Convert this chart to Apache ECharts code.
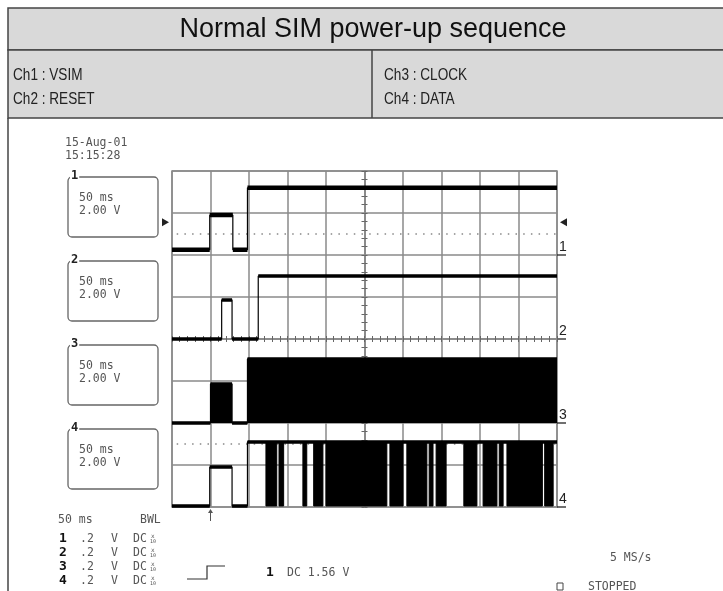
<!DOCTYPE html>
<html><head><meta charset="utf-8">
<script src="https://cdn.jsdelivr.net/npm/echarts@6/dist/echarts.min.js"></script>
<style>html,body{margin:0;padding:0;background:#fff}#c{width:723px;height:591px}</style>
</head><body><div id="c"></div>
<script>
// ---------- data ----------
const titleText = 'Normal SIM power-up sequence';
const channelNames = ['Ch1 : VSIM', 'Ch2 : RESET', 'Ch3 : CLOCK', 'Ch4 : DATA'];
const timeRange = [0, 500];      // ms, 50 ms/div
const timeInterval = 50;
const voltRange = [0, 16];       // stacked display, 2 V/div
const voltInterval = 2;
const channelOffsets = [12, 8, 4, 0]; // V offset of each channel ground
// step waveforms: [time ms, volts]
const ch1Wave = [[0, 0.25], [49, 1.9], [79, 0.25], [98, 3.2], [500, 3.2]];
const ch2Wave = [[0, 0], [64.5, 1.86], [78, 0], [112, 3.0], [500, 3.0]];
const ch3Wave = [[0, 0], [50, 1.86], [78, 0], [98, 3.05], [500, 3.05]];
const ch4Wave = [[0, 0.05], [49, 1.9], [78, 0.05], [98, 3.1], [500, 3.1]];
const ch4Bursts = [[122, 136], [139, 145], [170, 175], [184, 196], [200, 279], [283, 300], [305, 331],
  [334, 339], [343, 356], [379, 396], [404, 422], [425, 430], [435, 481], [484, 495]];
const ch4High = 3.1, ch4Low = 0.05, ch4BurstStart = 98;
const ch1RefLevel = 1.0, ch4RefLevel = 3.0;
const triggerLevel = 1.56, triggerTime = 50;
const dateLines = ['15-Aug-01', '15:15:28'];
const boxTimebase = '50 ms', boxScale = '2.00 V';
const bottomHeader = ['50 ms', 'BWL'];
const bottomRows = [['1', '.2', 'V', 'DC'], ['2', '.2', 'V', 'DC'], ['3', '.2', 'V', 'DC'], ['4', '.2', 'V', 'DC']];
const triggerInfo = ['1', 'DC 1.56 V'];
const rateText = '5 MS/s', stateText = 'STOPPED';

// ---------- chart ----------
const GL = 172, GT = 171, GW = 385, GH = 336;
const chart = echarts.init(document.getElementById('c'), null, {renderer: 'canvas'});
const off = (w, o) => w.map(p => [p[0], p[1] + o]);
// horizontal level segments only (thick), separated by null gaps
const levels = (w, o) => {
  const out = [];
  for (let i = 0; i < w.length - 1; i++) {
    out.push([w[i][0], w[i][1] + o], [w[i + 1][0], w[i][1] + o], null);
  }
  return out;
};
const burstData = [[ch4BurstStart, ch4High]];
ch4Bursts.forEach(b => { burstData.push([b[0], ch4Low]); burstData.push([b[1], ch4High]); });
burstData.push([timeRange[1], ch4High]);

const gridCol = '#8a8a8a';
const mono = '"DejaVu Sans Mono", monospace';
const tickAxisX = (inside) => ({
  type: 'value', min: -250, max: 250, interval: 50, position: 'bottom',
  axisLine: {show: true, onZero: true, onZeroAxisIndex: 1, lineStyle: {color: gridCol, width: 1.5}},
  axisTick: {show: true, inside, length: 3, lineStyle: {color: '#666'}},
  minorTick: {show: true, splitNumber: 5, length: 3, lineStyle: {color: '#666'}},
  axisLabel: {show: false}, splitLine: {show: false}
});
const tickAxisY = (inside) => ({
  type: 'value', min: -8, max: 8, interval: 2, position: 'left',
  axisLine: {show: true, onZero: true, onZeroAxisIndex: 1, lineStyle: {color: gridCol, width: 1.5}},
  axisTick: {show: true, inside, length: 3, lineStyle: {color: '#666'}},
  minorTick: {show: true, splitNumber: 5, length: 3, lineStyle: {color: '#666'}},
  axisLabel: {show: false}, splitLine: {show: false}
});

const thin = {color: '#000', width: 1.2};
const thick = {color: '#000', width: 3.5};
const dotted = {color: '#888', type: [1.5, 6.2], dashOffset: 3, width: 1.5};
const waves = [ch1Wave, ch2Wave, ch3Wave, ch4Wave];
const series = [];
waves.forEach((w, i) => {
  const s = {type: 'line', step: 'end', data: off(w, channelOffsets[i]), symbol: 'none', z: 5, lineStyle: thin};
  if (i === 2) s.areaStyle = {color: '#000', opacity: 1, origin: channelOffsets[2]};
  if (i === 0 || i === 3) s.markLine = {silent: true, symbol: 'none', label: {show: false}, lineStyle: dotted,
    data: [{yAxis: channelOffsets[i] + (i === 0 ? ch1RefLevel : ch4RefLevel)}]};
  series.push(s);
  series.push({type: 'line', data: levels(w, channelOffsets[i]), symbol: 'none', z: 6,
    lineStyle: i === 0 ? {color: '#000', width: 4.5} : thick, connectNulls: false});
});
series.push({type: 'line', step: 'end', data: off(burstData, channelOffsets[3]), symbol: 'none', z: 5,
  lineStyle: {color: '#000', width: 1},
  areaStyle: {color: '#000', opacity: 1, origin: channelOffsets[3] + ch4High}});

const option = {
  animation: false,
  backgroundColor: '#fff',
  grid: {left: GL, top: GT, width: GW, height: GH, show: true, borderColor: gridCol, borderWidth: 1.5, backgroundColor: 'transparent'},
  xAxis: [
    {type: 'value', min: timeRange[0], max: timeRange[1], interval: timeInterval,
      axisLine: {show: false}, axisTick: {show: false}, axisLabel: {show: false},
      splitLine: {show: true, lineStyle: {color: gridCol, width: 1.5}}},
    tickAxisX(true), tickAxisX(false)
  ],
  yAxis: [
    {type: 'value', min: voltRange[0], max: voltRange[1], interval: voltInterval,
      axisLine: {show: false}, axisTick: {show: false}, axisLabel: {show: false},
      splitLine: {show: true, lineStyle: {color: gridCol, width: 1.5}}},
    tickAxisY(true), tickAxisY(false)
  ],
  series
};
chart.setOption(option);

// ---------- annotations ----------
const px = (t, v) => chart.convertToPixel({xAxisIndex: 0, yAxisIndex: 0}, [t, v]);
const g = [];
const txt = (x, y, s, o, extra) => g.push(Object.assign({type: 'text', x, y, z: 10,
  style: Object.assign({text: s, fill: '#555', font: '11.5px ' + mono, textVerticalAlign: 'middle'}, o || {})}, extra || {}));
// header
g.push({type: 'rect', shape: {x: 8, y: 8, width: 760, height: 42}, style: {fill: '#d9d9d9', stroke: '#444', lineWidth: 1.5}});
g.push({type: 'rect', shape: {x: 8, y: 50, width: 760, height: 68}, style: {fill: '#d9d9d9', stroke: '#444', lineWidth: 1.5}});
g.push({type: 'line', shape: {x1: 372, y1: 50, x2: 372, y2: 118}, style: {stroke: '#444', lineWidth: 1.5}});
g.push({type: 'line', shape: {x1: 8, y1: 118, x2: 8, y2: 591}, style: {stroke: '#444', lineWidth: 1.5}});
txt(373, 30, titleText, {fill: '#111', font: '27px "Liberation Sans", Arial, sans-serif', textAlign: 'center'});
const hf = {fill: '#222', font: '17px "Liberation Sans", Arial, sans-serif'};
txt(0, 0, channelNames[0], hf, {x: 13, y: 75, scaleX: 0.8});
txt(0, 0, channelNames[1], hf, {x: 13, y: 99, scaleX: 0.8});
txt(0, 0, channelNames[2], hf, {x: 384, y: 75, scaleX: 0.8});
txt(0, 0, channelNames[3], hf, {x: 384, y: 99, scaleX: 0.8});
// date
txt(65, 143, dateLines[0]);
txt(65, 156, dateLines[1]);
// channel boxes
channelOffsets.forEach((o, i) => {
  const top = px(0, o + 4)[1] + 6;
  g.push({type: 'rect', shape: {x: 68, y: top, width: 90, height: 60, r: 4}, style: {fill: 'none', stroke: '#666', lineWidth: 1.3}});
  g.push({type: 'text', x: 70, y: top - 1, z: 11, style: {text: String(i + 1), fill: '#222', font: 'bold 12px ' + mono,
    textVerticalAlign: 'middle', backgroundColor: '#fff', padding: [0, 1]}});
  txt(79, top + 21, boxTimebase);
  txt(79, top + 34, boxScale);
  // right marker
  const y0 = px(0, o)[1];
  g.push({type: 'line', shape: {x1: GL + GW, y1: y0, x2: GL + GW + 9, y2: y0}, style: {stroke: '#222', lineWidth: 1.3}});
  txt(GL + GW + 2, y0 - 8, String(i + 1), {fill: '#222', font: '14px "Liberation Sans", sans-serif'});
});
// trigger level arrows
const ty = px(0, channelOffsets[0] + triggerLevel)[1];
g.push({type: 'polygon', shape: {points: [[GL - 10, ty - 4], [GL - 10, ty + 4], [GL - 3, ty]]}, style: {fill: '#222'}});
g.push({type: 'polygon', shape: {points: [[GL + GW + 3, ty], [GL + GW + 10, ty - 4], [GL + GW + 10, ty + 4]]}, style: {fill: '#222'}});
// trigger time arrow
const tx = px(triggerTime, 0)[0];
g.push({type: 'line', shape: {x1: tx, y1: 510, x2: tx, y2: 521}, style: {stroke: '#555', lineWidth: 1}});
g.push({type: 'polygon', shape: {points: [[tx - 2.5, 513], [tx + 2.5, 513], [tx, 509]]}, style: {fill: '#555'}});
// bottom info
txt(58, 520, bottomHeader[0]);
txt(140, 520, bottomHeader[1]);
bottomRows.forEach((r, i) => {
  const y = 539 + i * 14;
  txt(59, y, r[0], {fill: '#111', font: 'bold 13px ' + mono});
  txt(80, y, r[1]);
  txt(111, y, r[2]);
  txt(133, y, r[3]);
  txt(151, y - 3, 'x', {font: '6px ' + mono});
  txt(150, y + 3, '10', {font: '5px ' + mono});
});
g.push({type: 'polyline', shape: {points: [[187, 579], [207, 579], [207, 566], [225, 566]]}, style: {stroke: '#333', lineWidth: 1.2, fill: 'none'}});
txt(266, 573, triggerInfo[0], {fill: '#111', font: 'bold 13px ' + mono});
txt(287, 573, triggerInfo[1]);
txt(610, 558, rateText);
g.push({type: 'rect', shape: {x: 557, y: 583, width: 6, height: 7}, style: {fill: 'none', stroke: '#444', lineWidth: 1}});
txt(588, 587, stateText);
chart.setOption({graphic: g});
</script></body></html>
